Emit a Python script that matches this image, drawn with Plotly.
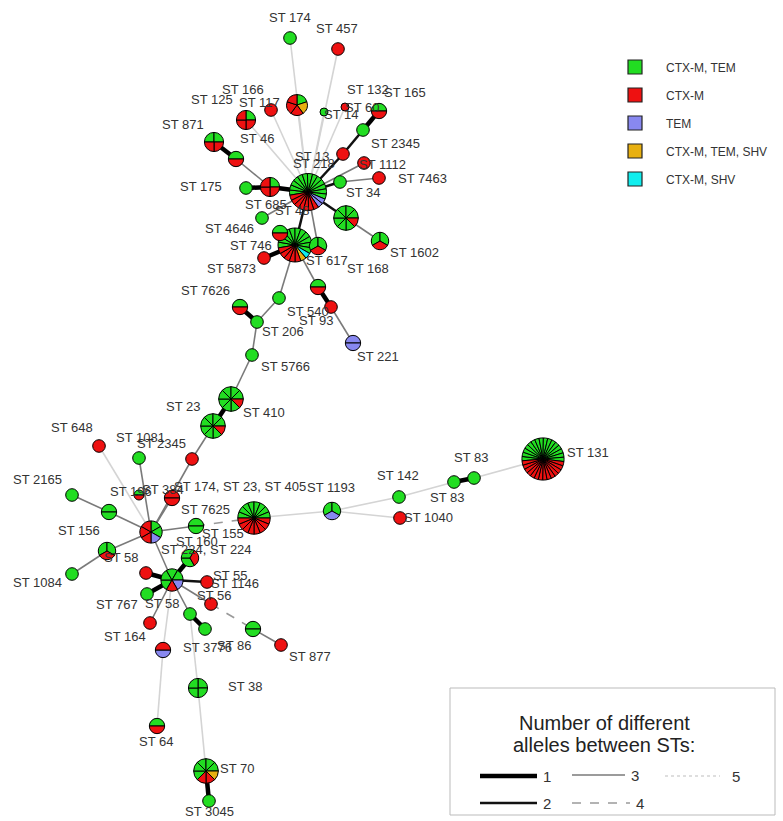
import plotly.graph_objects as go

W, H = 783, 821

# ---- data: sequence-type nodes and isolate counts per beta-lactamase profile ----
node_ids = ["hubA", "hubB", "C", "1602", "168", "n280", "4646", "685", "175", "n236",
            "871", "46", "117", "166", "174", "457", "14", "60", "165", "n363",
            "2345", "1112", "34", "7463", "5873", "n318", "540", "221", "n279", "206",
            "7626", "5766", "410", "23", "n192",
            "hubD", "196", "1081", "648", "2165", "156", "58a", "1084", "384", "155",
            "405", "1193", "142", "1040", "83a", "83b", "131", "224", "hubE", "n146",
            "767", "1146", "56", "164", "n190", "86", "n253", "877", "3776", "38",
            "64", "70", "3045"]
cnt_ctxm_tem = [13, 11, 7, 2, 2, 1, 1, 1, 1, 1,
                2, 1, 0, 1, 1, 0, 1, 0, 1, 1,
                0, 0, 1, 0, 0, 1, 0, 0, 1, 1,
                1, 1, 7, 7, 0,
                2, 1, 1, 0, 1, 2, 2, 1, 0, 2,
                8, 2, 1, 0, 1, 1, 16, 2, 4, 0,
                1, 0, 0, 0, 1, 1, 2, 0, 0, 4,
                1, 5, 1]
cnt_ctxm = [7, 5, 1, 1, 1, 1, 0, 3, 0, 1,
            2, 3, 1, 3, 0, 1, 0, 1, 1, 0,
            1, 1, 0, 1, 1, 1, 1, 0, 0, 0,
            1, 0, 1, 1, 1,
            3, 1, 0, 1, 0, 0, 1, 0, 2, 0,
            8, 0, 0, 1, 0, 0, 14, 1, 1, 1,
            0, 1, 1, 1, 0, 0, 0, 1, 1, 0,
            1, 2, 0]
cnt_tem = [2, 0, 0, 0, 0, 0, 0, 0, 0, 0,
           0, 0, 0, 0, 0, 0, 0, 0, 0, 0,
           0, 0, 0, 0, 0, 0, 0, 2, 0, 0,
           0, 0, 0, 0, 0,
           1, 0, 0, 0, 0, 0, 0, 0, 0, 0,
           0, 1, 0, 0, 0, 0, 0, 0, 1, 0,
           0, 0, 0, 0, 0, 0, 0, 0, 1, 0,
           0, 0, 0]
cnt_ctxm_tem_shv = [0, 1, 0, 0, 0, 0, 0, 0, 0, 0,
                    0, 0, 0, 1, 0, 0, 0, 0, 0, 0,
                    0, 0, 0, 0, 0, 0, 0, 0, 0, 0,
                    0, 0, 0, 0, 0,
                    0, 0, 0, 0, 0, 0, 0, 0, 0, 0,
                    0, 0, 0, 0, 0, 0, 0, 0, 0, 0,
                    0, 0, 0, 0, 0, 0, 0, 0, 0, 0,
                    0, 1, 0]
cnt_ctxm_shv = [0, 1] + [0] * 66

# links between STs: (node, node, number of different alleles)
edge_a = ["hubA", "hubA", "hubA", "hubA", "hubA", "hubA", "hubA", "hubA", "2345", "n363",
          "hubA", "hubA", "34", "hubA", "685", "685", "n236", "hubA", "C", "hubA",
          "hubA", "hubA", "hubB", "hubB", "hubB", "n318", "540", "hubB", "n279", "206",
          "206", "5766", "410", "23", "n192",
          "hubD", "hubD", "2165", "156", "hubD", "58a", "hubD", "hubD", "155", "405",
          "1193", "1193", "142", "83a", "83b", "hubD", "hubE", "hubE", "hubE", "hubE",
          "hubE", "56", "n253", "hubE", "hubE", "n190", "hubE", "3776", "n190", "38", "70"]
edge_b = ["174", "457", "166", "117", "46", "14", "60", "2345", "n363", "165",
          "1112", "34", "7463", "685", "175", "n236", "871", "C", "1602", "hubB",
          "168", "4646", "n280", "5873", "n318", "540", "221", "n279", "206", "7626",
          "5766", "410", "23", "n192", "hubD",
          "1081", "648", "156", "hubD", "58a", "1084", "384", "155", "405", "1193",
          "142", "1040", "83a", "83b", "131", "hubE", "224", "n146", "767", "1146",
          "56", "n253", "877", "164", "n190", "86", "3776", "64", "38", "70", "3045"]
edge_diff = [5, 5, 5, 5, 5, 5, 5, 2, 2, 1,
             3, 2, 3, 1, 1, 3, 1, 2, 3, 2,
             3, 3, 1, 1, 3, 1, 3, 3, 3, 1,
             3, 3, 1, 3, 3,
             3, 5, 3, 3, 3, 3, 3, 3, 4, 5,
             5, 5, 5, 1, 5, 3, 1, 1, 1, 2,
             3, 4, 3, 3, 3, 1, 5, 5, 5, 5, 1]

profile_names = ["CTX-M, TEM", "CTX-M", "TEM", "CTX-M, TEM, SHV", "CTX-M, SHV"]
allele_classes = ["1", "2", "3", "4", "5"]
legend_title = ["Number of different", "alleles between STs:"]

# ---- layout of the network (pixel space) ----
node_pos = {
    "hubA": (308, 192), "hubB": (295, 245), "C": (346, 218), "1602": (380, 241),
    "168": (318, 246), "n280": (280, 233), "4646": (262, 218), "685": (270, 187),
    "175": (246, 188), "n236": (236, 159), "871": (214, 142), "46": (246, 120),
    "117": (271, 110), "166": (297, 105), "174": (290, 38), "457": (338, 49),
    "14": (324, 112), "60": (345, 107), "165": (379, 111), "n363": (363, 130),
    "2345": (343, 154), "1112": (364, 163), "34": (340, 182), "7463": (379, 178),
    "5873": (264, 258), "n318": (318, 287), "540": (331, 307), "221": (353, 343),
    "n279": (279, 298), "206": (257, 322), "7626": (240, 307), "5766": (252, 355),
    "410": (231, 399), "23": (213, 426), "n192": (192, 459),
    "hubD": (151, 532), "196": (139, 495), "1081": (139, 458), "648": (99, 446),
    "2165": (72, 495), "156": (109, 512), "58a": (107, 551), "1084": (72, 574),
    "384": (172, 498), "155": (196, 526), "405": (254, 518), "1193": (332, 511),
    "142": (399, 497), "1040": (400, 518), "83a": (454, 482), "83b": (474, 478),
    "131": (543, 459), "224": (190, 558), "hubE": (172, 580), "n146": (146, 573),
    "767": (147, 594), "1146": (207, 582), "56": (211, 604), "164": (150, 623),
    "n190": (190, 614), "86": (205, 629), "n253": (253, 629), "877": (281, 645),
    "3776": (163, 650), "38": (198, 688), "64": (157, 726), "70": (206, 771),
    "3045": (209, 801),
}
# starting angle of the first slice (degrees clockwise from 12 o'clock)
rotation = {"hubA": -100, "hubB": -100, "C": 135, "1602": -120, "168": -120,
            "685": 0, "46": 0, "166": 0, "410": 135, "23": 135, "hubD": 0,
            "58a": -120, "1193": -120, "131": -95, "224": 150, "hubE": 210,
            "3776": 90, "38": 0, "70": 225}
radius_override = {"14": 4, "60": 4, "196": 5}

label_text = ["ST 174", "ST 457", "ST 166", "ST 125", "ST 117", "ST 132", "ST 165",
              "ST 14", "ST 60", "ST 871", "ST 46", "ST 2345", "ST 13", "ST 218",
              "ST 1112", "ST 7463", "ST 175", "ST 34", "ST 685", "ST 48", "ST 4646",
              "ST 746", "ST 1602", "ST 617", "ST 5873", "ST 168", "ST 7626", "ST 540",
              "ST 93", "ST 206", "ST 221", "ST 5766", "ST 23", "ST 410", "ST 648",
              "ST 1081", "ST 2345", "ST 2165", "ST 196", "ST 384",
              "ST 174, ST 23, ST 405", "ST 1193", "ST 142", "ST 83", "ST 83",
              "ST 131", "ST 7625", "ST 1040", "ST 156", "ST 155", "ST 160",
              "ST 224, ST 224", "ST 58", "ST 1084", "ST 55", "ST 1146", "ST 767",
              "ST 58", "ST 56", "ST 164", "ST 3776", "ST 86", "ST 877", "ST 38",
              "ST 64", "ST 70", "ST 3045"]
label_pos = [(290, 17), (337, 28), (243, 89), (212, 99), (259, 102), (368, 89), (405, 92),
             (341, 114), (362, 107), (183, 124), (257, 138), (395, 143), (312, 156), (314, 163),
             (382, 164), (422, 178), (201, 186), (363, 192), (266, 204), (292, 210), (229, 228),
             (251, 245), (414, 252), (327, 260), (231, 268), (368, 268), (205, 290), (308, 311),
             (316, 320), (283, 331), (378, 356), (285, 366), (183, 406), (264, 412), (72, 427),
             (140, 437), (161, 443), (37, 479), (131, 491), (163, 489),
             (240, 486), (331, 487), (398, 475), (471, 457), (447, 497),
             (588, 452), (205, 509), (428, 517), (79, 530), (223, 533), (197, 541),
             (206, 549), (121, 557), (37, 582), (230, 575), (235, 583), (117, 604),
             (162, 603), (214, 595), (125, 636), (207, 647), (234, 645), (310, 656), (245, 686),
             (156, 741), (237, 768), (209, 811)]

# ---- styles ----
profile_colors = ["#22dd22", "#ee1111", "#8888f0", "#e8b010", "#11eeee"]
edge_style = {
    1: dict(color="#000000", width=4.5, dash="solid"),
    2: dict(color="#111111", width=2.5, dash="solid"),
    3: dict(color="#7a7a7a", width=1.6, dash="solid"),
    4: dict(color="#9a9a9a", width=1.6, dash="dash"),
    5: dict(color="#d4d4d4", width=1.6, dash="solid"),
}
FONT = "Liberation Sans, Arial, sans-serif"

fig = go.Figure()

# links, grouped by allele difference
for d in sorted(edge_style):
    xs, ys = [], []
    for a, b, k in zip(edge_a, edge_b, edge_diff):
        if k != d:
            continue
        xa, ya = node_pos[a]
        xb, yb = node_pos[b]
        xs += [xa, xb, None]
        ys += [ya, yb, None]
    fig.add_trace(go.Scatter(x=xs, y=ys, mode="lines", line=edge_style[d],
                             hoverinfo="skip", showlegend=False))

# nodes as pies: one slice per isolate
counts = [cnt_ctxm_tem, cnt_ctxm, cnt_tem, cnt_ctxm_tem_shv, cnt_ctxm_shv]
slice_order = [0, 4, 3, 2, 1]  # green, cyan, yellow, blue, red going clockwise
for i, nid in enumerate(node_ids):
    cols = []
    for p in slice_order:
        cols += [profile_colors[p]] * counts[p][i]
    n = len(cols)
    r = radius_override.get(nid, 3 + 3.3 * n ** 0.5)
    x, y = node_pos[nid]
    fig.add_trace(go.Pie(
        values=[1] * n, labels=[f"{nid}-{j}" for j in range(n)],
        marker=dict(colors=cols, line=dict(color="#000000", width=1)),
        domain=dict(x=[(x - r) / W, (x + r) / W], y=[1 - (y + r) / H, 1 - (y - r) / H]),
        sort=False, direction="clockwise", rotation=rotation.get(nid, -90),
        textinfo="none", hoverinfo="skip", showlegend=False))

annotations = []
for t, (x, y) in zip(label_text, label_pos):
    annotations.append(dict(x=x, y=y, xref="x", yref="y", text=t, showarrow=False,
                            font=dict(family=FONT, size=13, color="#333333")))

shapes = []
# profile legend (top right)
for k, name in enumerate(profile_names):
    y0 = 67 + 28 * k
    shapes.append(dict(type="rect", xref="x", yref="y", x0=628, x1=642, y0=y0 - 7, y1=y0 + 7,
                       fillcolor=profile_colors[k], line=dict(color="#222222", width=1.2)))
    annotations.append(dict(x=664, y=y0 + 1, xref="x", yref="y", text=name, showarrow=False,
                            xanchor="left", font=dict(family=FONT, size=12, color="#333333")))

# allele-difference legend (bottom right)
shapes.append(dict(type="rect", xref="x", yref="y", x0=450, x1=775, y0=688, y1=815,
                   line=dict(color="#bbbbbb", width=1), fillcolor="rgba(0,0,0,0)"))
for line_txt, ty in zip(legend_title, [723, 745]):
    annotations.append(dict(x=604, y=ty, xref="x", yref="y", text=line_txt, showarrow=False,
                            font=dict(family=FONT, size=20, color="#222222")))
sample_pos = [(480, 537, 776), (480, 537, 803), (572, 625, 775), (572, 630, 803), (665, 720, 776)]
for cls, (x0, x1, y) in zip(allele_classes, sample_pos):
    st = edge_style[int(cls)]
    shapes.append(dict(type="line", xref="x", yref="y", x0=x0, x1=x1, y0=y, y1=y,
                       line=dict(color=st["color"], width=st["width"],
                                 dash="dot" if cls == "5" else st["dash"])))
    annotations.append(dict(x=x1 + 4 if cls != "5" else x1 + 10, y=y, xref="x", yref="y",
                            text=cls, showarrow=False, xanchor="left",
                            font=dict(family=FONT, size=15, color="#333333")))

fig.update_layout(
    width=W, height=H, margin=dict(l=0, r=0, t=0, b=0),
    paper_bgcolor="white", plot_bgcolor="white",
    xaxis=dict(range=[0, W], visible=False, fixedrange=True),
    yaxis=dict(range=[H, 0], visible=False, fixedrange=True),
    shapes=shapes, annotations=annotations, showlegend=False,
)

fig.write_html("out.html")
